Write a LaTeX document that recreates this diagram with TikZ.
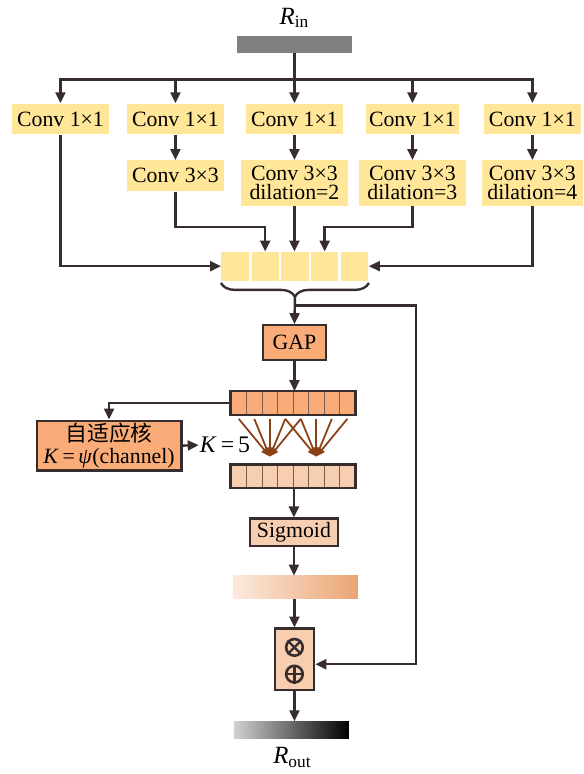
\documentclass[tikz,border=0pt]{standalone}
\usepackage{fontspec}
\setmainfont{Liberation Serif}
\newfontfamily\cjkfont{Noto Sans CJK SC}
\usetikzlibrary{positioning,arrows.meta,decorations.pathreplacing}

\definecolor{convyellow}{RGB}{255,230,153}
\definecolor{deeporange}{RGB}{250,172,120}
\definecolor{paleorange}{RGB}{248,206,176}
\definecolor{edgegray}{RGB}{55,45,45}
\definecolor{fanbrown}{RGB}{140,65,20}
\definecolor{cellline}{RGB}{120,95,80}

\begin{document}
\begin{tikzpicture}[
		x=0.5pt, y=-0.5pt,
		font=\fontsize{11}{9.6}\selectfont,
		conv/.style={rectangle, fill=convyellow, minimum width=#1, minimum height=15.5pt, inner sep=1pt, align=center},
		dil/.style={rectangle, fill=convyellow, minimum width=#1, minimum height=23pt, inner sep=1pt, align=center},
		cell/.style={rectangle, fill=convyellow, minimum width=13.7pt, minimum height=14.5pt, inner sep=0pt},
		block/.style={rectangle, draw=edgegray, line width=1.1pt, fill=#1, align=center, inner sep=1pt},
		vcell/.style={rectangle, draw=cellline, line width=0.5pt, fill=#1, minimum width=7.82pt, minimum height=11.5pt, inner sep=0pt},
		bar/.style={rectangle, inner sep=0pt},
		opsym/.style={circle, draw=edgegray, line width=1.3pt, minimum size=8.4pt, inner sep=0pt},
		arrow/.style={-{Triangle[length=5.5pt, width=5pt]}, line width=1.2pt, draw=edgegray},
		line/.style={line width=1.2pt, draw=edgegray},
		fan/.style={-{Triangle[length=4.5pt, width=3.5pt]}, line width=0.9pt, draw=fanbrown}
		]
		
		%==================== Input ====================%
		\node (rinlabel) at (297,18) {\fontsize{12.5}{12}\selectfont\textit{R}\textsubscript{in}};
		\node[bar, fill=gray, minimum width=58pt, minimum height=8.5pt] (rin) at (297,44.5) {};
		\coordinate (split) at (297,80);
		
		%==================== Branches ====================%
		\node[conv=49pt] (c1) at (61,120) {Conv 1×1};
		\node[conv=49pt] (c2) at (177,120) {Conv 1×1};
		\node[conv=49pt] (c3) at (297,120) {Conv 1×1};
		\node[conv=47pt] (c4) at (416,120) {Conv 1×1};
		\node[conv=49pt] (c5) at (537,120) {Conv 1×1};
		
		\node[conv=49pt, below=12.75pt of c2] (d2) {Conv 3×3};
		\node[dil=54pt, below=12.75pt of c3] (d3) {Conv 3×3\\dilation=2};
		\node[dil=54pt, below=12.75pt of c4] (d4) {Conv 3×3\\dilation=3};
		\node[dil=51pt, below=12.75pt of c5] (d5) {Conv 3×3\\dilation=4};
		
		%==================== Concat + GAP ====================%
		\foreach \i/\x in {1/237,2/267.5,3/297.5,4/327.5,5/358}
			\node[cell] (f\i) at (\x,268.5) {};
		\coordinate (tip) at (297.5,300);
		\coordinate (br) at (297.5,308);
		
		\node[block=deeporange, minimum width=31.5pt, minimum height=17.5pt] (gap) at (297,345.5) {GAP};
		
		\foreach \i in {1,...,8}
			\node[vcell=deeporange] (t\i) at ({233+15.65*(\i-0.5)},406.5) {};
		\foreach \i in {1,...,8}
			\node[vcell=paleorange] (b\i) at ({233+15.65*(\i-0.5)},480.5) {};
		\coordinate (k1) at ([yshift=4pt]b3.north);
		\coordinate (k2) at ([yshift=4pt]b6.north);
		
		\node[block=deeporange, minimum width=73pt, minimum height=25pt, font=\fontsize{11}{11.5}\selectfont] (ad) at (110,449.5)
			{{\cjkfont 自适应核}\\\textit{K}\,=\,\textit{ψ}(channel)};
		\node[inner sep=0.5pt, font=\fontsize{12}{12}\selectfont] (k5) at (227,449) {\textit{K}\,=\,5};
		
		%==================== Gate ====================%
		\node[block=paleorange, minimum width=44.5pt, minimum height=14pt] (sig) at (296.5,537) {Sigmoid};
		\node[bar, left color={rgb,255:red,251;green,234;blue,222}, right color={rgb,255:red,234;green,165;blue,115},
			minimum width=63pt, minimum height=11.5pt] (att) at (298,592.5) {};
		\node[block=paleorange, minimum width=20pt, minimum height=31pt] (op) at (297,665) {};
		\node[opsym] (otimes) at (297,653) {};
		\node[opsym] (oplus) at (297,680) {};
		\node[bar, left color=black!18, middle color=black!68, right color=black, minimum width=58pt, minimum height=8.5pt] (rout) at (294,736.5) {};
		\node (routlabel) at (295,764) {\fontsize{12.5}{12}\selectfont\textit{R}\textsubscript{out}};
		
		%==================== Arrows ====================%
		\draw[arrow] (rin.south) -- (c3.north);
		\foreach \n in {c1,c2,c4,c5}
			\draw[arrow] (split) -| (\n.north);
		\draw[arrow] (c2) -- (d2);
		\draw[arrow] (c3) -- (d3);
		\draw[arrow] (c4) -- (d4);
		\draw[arrow] (c5) -- (d5);
		
		\draw[arrow] (c1.south) |- (f1.west);
		\draw[arrow] (d5.south) |- (f5.east);
		\draw[arrow] (d2.south) -- ++(0,36) -| (f2.north);
		\draw[arrow] (d3.south) -- (d3.south |- f3.north);
		\draw[arrow] (d4.south) -- ++(0,21) -| (f4.north);
		
		\draw[line, decorate, decoration={brace, mirror, amplitude=7pt, raise=1pt}] (f1.south west) -- (f5.south east);
		\draw[arrow] (tip) -- (gap.north);
		\draw[arrow] (br) -- ++(122,0) |- ([yshift=-2.5pt]op.east);
		
		\draw[arrow] (gap.south) -- (gap.south |- t4.north);
		\draw[line] (t1.north west) rectangle (t8.south east);
		\draw[line] (b1.north west) rectangle (b8.south east);
		\draw[arrow] (t1.west) -| (ad.north);
		\draw[arrow] (ad.east) -- (k5.west);
		
		% ECA-style 1D conv, K=5
		\foreach \i in {1,...,5}
			\draw[fan] ([yshift=-2pt]t\i.south) -- (k1);
		\foreach \i in {4,...,8}
			\draw[fan] ([yshift=-2pt]t\i.south) -- (k2);
		
		\draw[arrow] (sig.north |- b4.south) -- (sig.north);
		\draw[arrow] (sig.south) -- (sig.south |- att.north);
		\draw[arrow] (op.north |- att.south) -- (op.north);
		\draw[arrow] (op.south) -- (op.south |- rout.north);
		
		\draw[line width=1.2pt, draw=edgegray] (otimes.45) -- (otimes.225) (otimes.135) -- (otimes.315);
		\draw[line width=1.2pt, draw=edgegray] (oplus.north) -- (oplus.south) (oplus.west) -- (oplus.east);
		
		\useasboundingbox (0,0) rectangle (589,774);
	\end{tikzpicture}
\end{document}
